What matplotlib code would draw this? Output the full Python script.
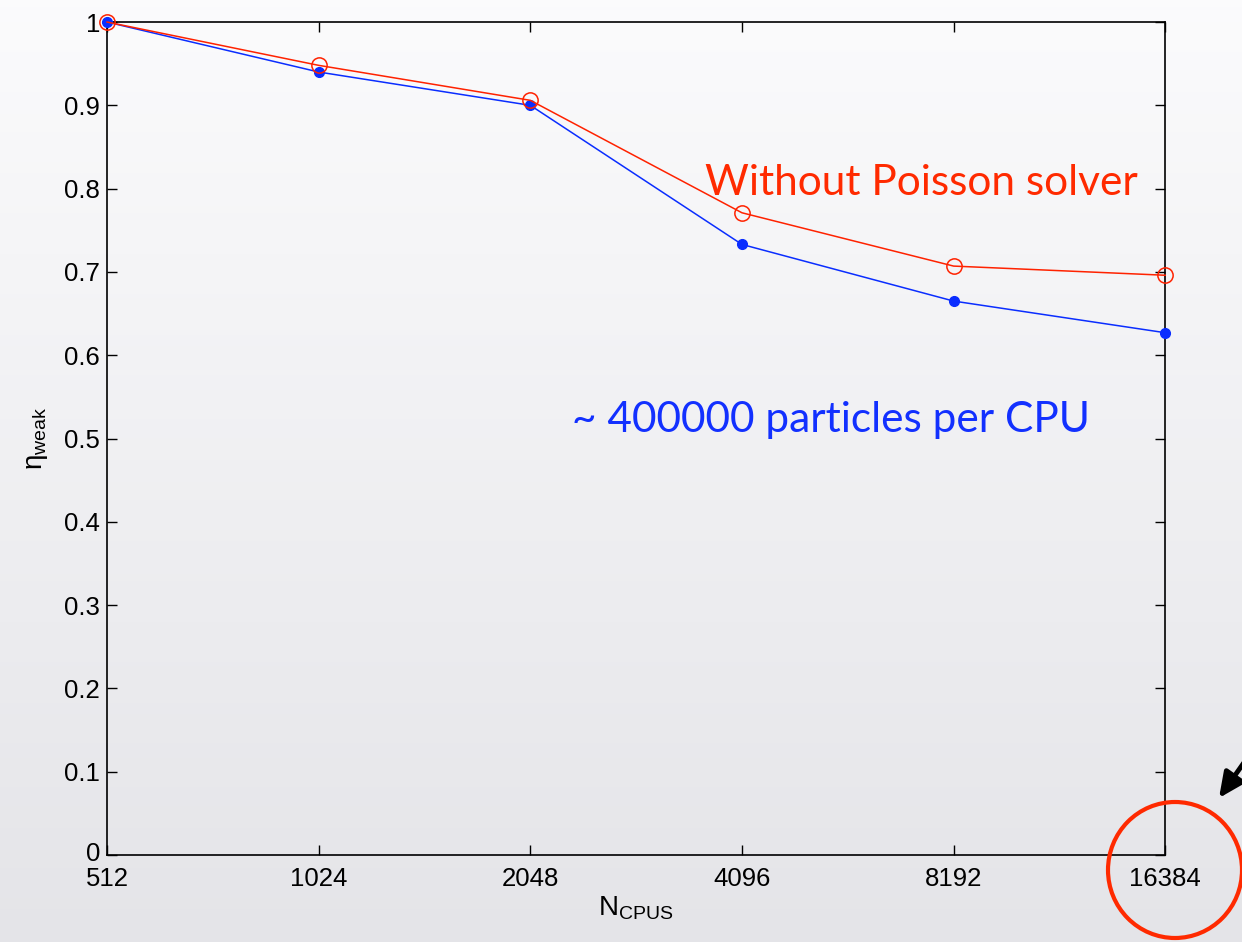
import numpy as np
import matplotlib
matplotlib.use("Agg")
import matplotlib.pyplot as plt
import matplotlib.transforms as mtransforms
from matplotlib.patches import Ellipse

ncpus = [512, 1024, 2048, 4096, 8192, 16384]
eta_nopoisson = [1.0, 0.948, 0.906, 0.771, 0.707, 0.696]
eta_weak = [1.0, 0.940, 0.900, 0.733, 0.665, 0.627]
yticks = [0, 0.1, 0.2, 0.3, 0.4, 0.5, 0.6, 0.7, 0.8, 0.9, 1]
ytick_labels = ["0", "0.1", "0.2", "0.3", "0.4", "0.5", "0.6", "0.7", "0.8", "0.9", "1"]

plt.rcParams["font.family"] = ["Liberation Sans", "DejaVu Sans"]
plt.rcParams["mathtext.fontset"] = "custom"
plt.rcParams["mathtext.rm"] = "Liberation Sans"
plt.rcParams["mathtext.it"] = "Liberation Sans:italic"

fig = plt.figure(figsize=(12.42, 9.42), dpi=100)

# background gradient
bg = fig.add_axes([0, 0, 1, 1], zorder=-10)
grad = np.linspace(0, 1, 256).reshape(-1, 1)
top = np.array([0.985, 0.985, 0.99])
bot = np.array([0.895, 0.895, 0.91])
img = top + (bot - top) * grad[:, :, None]
bg.imshow(img, aspect="auto", extent=[0, 1, 0, 1])
bg.axis("off")

ax = fig.add_axes([0.0862, 0.0924, 0.852, 0.8842])
ax.set_facecolor("none")
ax.plot(ncpus, eta_weak, color="#0a2dff", lw=1.1, marker="o", ms=7,
        mfc="#0a2dff", mec="#0a2dff", clip_on=False, zorder=3)
ax.plot(ncpus, eta_nopoisson, color="#ff2200", lw=1.1, marker="o", ms=11,
        mfc="none", mec="#ff2200", mew=1.1, clip_on=False, zorder=4)

ax.set_xscale("log", base=2)
ax.set_xlim(512, 16384)
ax.set_ylim(0, 1)
ax.set_xticks(ncpus)
ax.set_xticklabels([str(n) for n in ncpus])
ax.minorticks_off()
ax.set_yticks(yticks)
ax.set_yticklabels(ytick_labels)
ax.tick_params(direction="in", length=7, width=1, labelsize=18.5,
               top=True, right=True)
ax.tick_params(axis="y", pad=5)
ax.tick_params(axis="x", pad=9)
for s in ax.spines.values():
    s.set_linewidth(1.2)

# nudge the "0" label up a little so it sits clear of "512"
zero_lbl = ax.get_yticklabels()[0]
zero_lbl.set_transform(zero_lbl.get_transform() +
                       mtransforms.ScaledTranslation(0, 3 / 100, fig.dpi_scale_trans))

ax.set_xlabel(r"N$_{\mathrm{CPUS}}$", fontsize=20, labelpad=2)
ax.set_ylabel(r"$\mathrm{\eta}_{\mathrm{weak}}$", fontsize=20, labelpad=10)

ax.text(0.565, 0.792, "Without Poisson solver", transform=ax.transAxes,
        color="#ff2a00", fontsize=30.5, family="Lato", va="baseline")
ax.text(0.4395, 0.508, "~ 400000 particles per CPU", transform=ax.transAxes,
        color="#1230ff", fontsize=30.5, family="Lato", va="baseline")

# highlight circle and arrow
circ = Ellipse((11.75, 0.72), 1.34, 1.36, transform=fig.dpi_scale_trans,
               fill=False, ec="#ff2a00", lw=3, clip_on=False)
fig.add_artist(circ)
ax.annotate("", xy=(1219, 942 - 798), xytext=(1262, 942 - 737),
            xycoords="figure pixels", textcoords="figure pixels",
            arrowprops=dict(arrowstyle="-|>,head_length=1.5,head_width=0.7",
                            lw=3.5, color="black", shrinkA=0, shrinkB=0),
            annotation_clip=False)

fig.savefig("out.png", dpi=100)
